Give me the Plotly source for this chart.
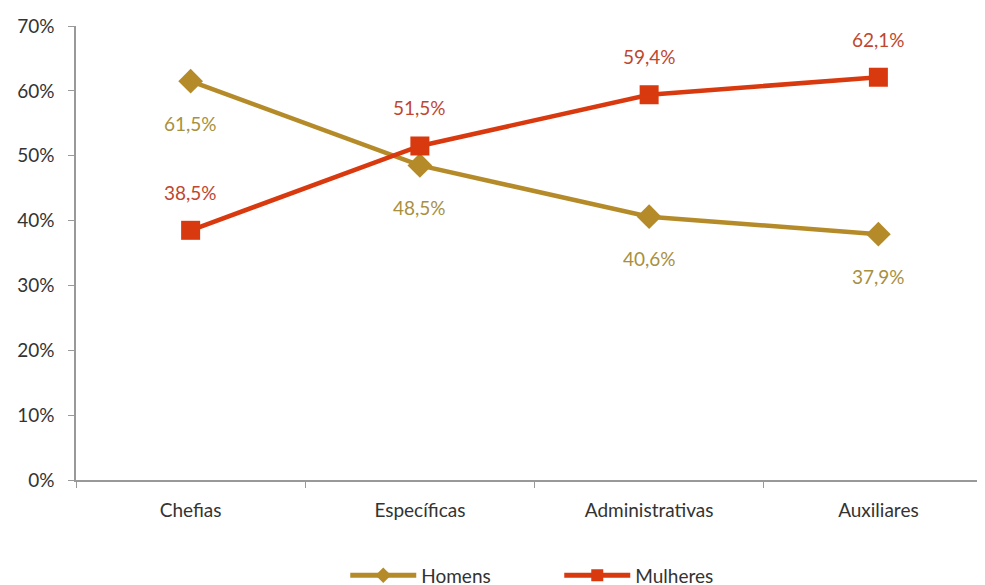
import plotly.graph_objects as go

categories = ["Chefias", "Específicas", "Administrativas", "Auxiliares"]
homens = [61.5, 48.5, 40.6, 37.9]
mulheres = [38.5, 51.5, 59.4, 62.1]
y_ticks = [0, 10, 20, 30, 40, 50, 60, 70]
y_tick_text = [f"{v}%" for v in y_ticks]

gold = "#B58B2A"
gold_txt = "#A8903E"
red = "#D9390E"
red_txt = "#C0462F"
font = "Lato"

fig = go.Figure()
fig.add_trace(go.Scatter(x=categories, y=homens, name="Homens", mode="lines+markers",
                         line=dict(color=gold, width=4.5),
                         marker=dict(symbol="diamond", size=19, color=gold)))
fig.add_trace(go.Scatter(x=categories, y=mulheres, name="Mulheres", mode="lines+markers",
                         line=dict(color=red, width=4.5),
                         marker=dict(symbol="square", size=19, color=red)))

def fmt(v):
    return f"{v:.1f}".replace(".", ",") + "%"

for c, v in zip(categories, homens):
    fig.add_annotation(x=c, y=v, text=fmt(v), showarrow=False, yshift=-42,
                       font=dict(family=font, size=19, color=gold_txt))
for c, v in zip(categories, mulheres):
    fig.add_annotation(x=c, y=v, text=fmt(v), showarrow=False, yshift=38,
                       font=dict(family=font, size=19, color=red_txt))

fig.update_layout(
    width=985, height=585,
    margin=dict(l=68, r=0, t=18, b=113, autoexpand=False),
    paper_bgcolor="white", plot_bgcolor="white",
    font=dict(family=font, size=19, color="#333333"),
    showlegend=True,
    legend=dict(orientation="h", x=0.527, xanchor="center", y=-0.21, yanchor="middle",
                font=dict(family=font, size=19, color="#333333"), itemwidth=66,
                entrywidth=133, itemsizing="constant"),
    xaxis=dict(range=[-0.5, 3.5], showgrid=False, showline=True, linecolor="#999999",
               linewidth=1.5, ticks="outside", tickson="boundaries", ticklen=6,
               tickcolor="#999999", zeroline=False, automargin=False,
               ticklabelstandoff=12),
    yaxis=dict(range=[0, 70], tickvals=y_ticks, ticktext=y_tick_text, showgrid=False,
               showline=True, linecolor="#999999", linewidth=1.5, ticks="outside",
               ticklen=6, tickcolor="#999999", zeroline=False, automargin=False,
               ticklabelstandoff=10),
)

fig.write_html("out.html")
